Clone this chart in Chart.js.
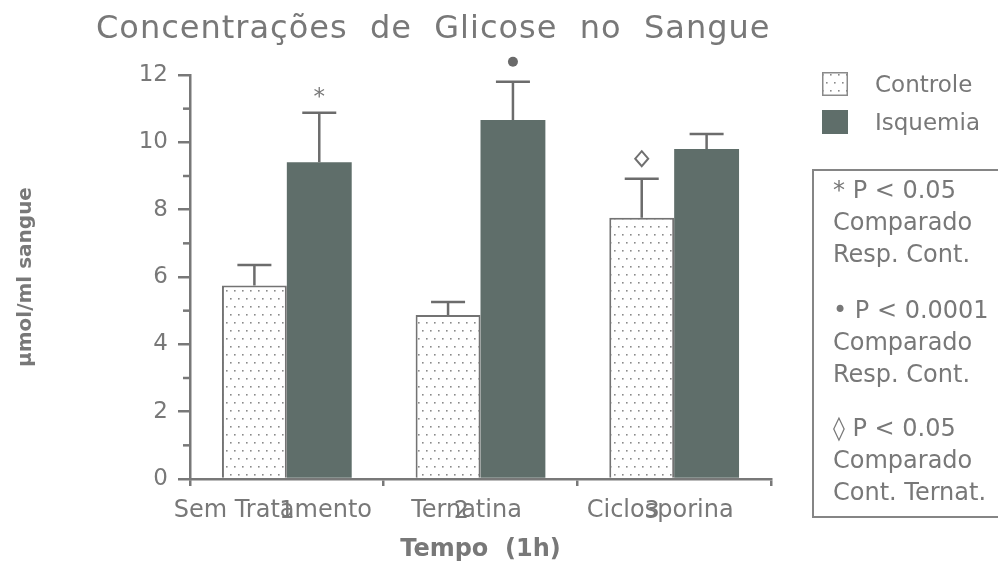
<!DOCTYPE html>
<html><head><meta charset="utf-8">
<script src="https://cdn.jsdelivr.net/npm/chart.js@4.4.1/dist/chart.umd.min.js"></script>
<style>html,body{margin:0;padding:0;background:#fff;}canvas{display:block}</style>
</head><body>
<canvas id="c" width="998" height="566"></canvas>
<script>
// ---- data ----
const categories = ['Sem Tratamento', 'Ternatina', 'Ciclosporina'];
const groupNumbers = ['1', '2', '3'];
const seriesNames = ['Controle', 'Isquemia'];
const controleValues = [5.75, 4.87, 7.76];
const controleErrors = [0.61, 0.39, 1.16];
const isquemiaValues = [9.41, 10.66, 9.80];
const isquemiaErrors = [1.47, 1.14, 0.45];
const yTickLabels = [0, 2, 4, 6, 8, 10, 12];
const chartTitle = 'Concentrações  de  Glicose  no  Sangue';
const yTitle = 'µmol/ml sangue';
const xTitle = 'Tempo  (1h)';
const significanceSeries = [1, 1, 0];
const significanceIndex = [0, 1, 2];
const significanceSymbol = ['*', '●', '◊'];
const noteLines = [
  ['* P < 0.05', 'Comparado', 'Resp. Cont.'],
  ['• P < 0.0001', 'Comparado', 'Resp. Cont.'],
  ['◊ P < 0.05', 'Comparado', 'Cont. Ternat.']
];

// ---- styles ----
const FAM = 'DejaVu Sans';
const GRAY = '#787878';
const DARK = '#5f6e6a';

function makeDots() {
  const c = document.createElement('canvas');
  c.width = 8; c.height = 16;
  const g = c.getContext('2d');
  g.fillStyle = '#fff'; g.fillRect(0, 0, 8, 16);
  g.fillStyle = '#8a8a8a';
  g.fillRect(2, 2, 1.6, 1.6);
  g.fillRect(6, 10, 1.6, 1.6);
  return g.createPattern(c, 'repeat');
}
const dots = makeDots();

const decorPlugin = {
  id: 'decor',
  afterDatasetsDraw(chart) {
    const ctx = chart.ctx;
    const y = chart.scales.y;
    ctx.save();
    ctx.strokeStyle = '#6c6c6c';
    ctx.lineWidth = 2.5;
    const tops = [];
    chart.data.datasets.forEach((ds, di) => {
      const meta = chart.getDatasetMeta(di);
      tops[di] = [];
      meta.data.forEach((bar, i) => {
        const top = y.getPixelForValue(ds.data[i] + ds.errors[i]);
        tops[di][i] = top;
        ctx.beginPath();
        ctx.moveTo(bar.x, bar.y);
        ctx.lineTo(bar.x, top);
        ctx.moveTo(bar.x - 17, top);
        ctx.lineTo(bar.x + 17, top);
        ctx.stroke();
      });
    });
    significanceSymbol.forEach((sym, k) => {
      const di = significanceSeries[k], i = significanceIndex[k];
      const bar = chart.getDatasetMeta(di).data[i];
      const cx = bar.x, cy = tops[di][i] - 20;
      if (sym === '*') {
        ctx.fillStyle = GRAY;
        ctx.font = '23px "' + FAM + '"';
        ctx.textAlign = 'center';
        ctx.textBaseline = 'alphabetic';
        const m = ctx.measureText('*');
        ctx.fillText('*', cx, cy + (m.actualBoundingBoxAscent - m.actualBoundingBoxDescent) / 2);
      } else if (sym === '●') {
        ctx.fillStyle = '#6a6a6a';
        ctx.beginPath(); ctx.arc(cx, cy, 5, 0, Math.PI * 2); ctx.fill();
      } else {
        ctx.strokeStyle = '#707070'; ctx.lineWidth = 2;
        ctx.beginPath();
        ctx.moveTo(cx, cy - 7.5); ctx.lineTo(cx + 6.5, cy); ctx.lineTo(cx, cy + 7.5); ctx.lineTo(cx - 6.5, cy); ctx.closePath();
        ctx.stroke();
      }
    });
    ctx.restore();
  },
  afterDraw(chart) {
    const ctx = chart.ctx;
    const x = chart.scales.x, y = chart.scales.y;
    ctx.save();
    // title
    ctx.fillStyle = GRAY;
    ctx.font = '32px "' + FAM + '"';
    ctx.letterSpacing = '1px';
    ctx.textAlign = 'left';
    ctx.textBaseline = 'middle';
    ctx.fillText(chartTitle, 96, 30);
    ctx.letterSpacing = '0px';
    // minor y ticks
    ctx.strokeStyle = GRAY; ctx.lineWidth = 2.5;
    for (let v = 1; v < 12; v += 2) {
      const py = y.getPixelForValue(v);
      ctx.beginPath(); ctx.moveTo(y.right - 7, py); ctx.lineTo(y.right, py); ctx.stroke();
    }
    // group numbers overlaid on category labels
    const shift = [0, -19, -22];
    ctx.font = '24px "' + FAM + '"';
    ctx.textAlign = 'center';
    ctx.textBaseline = 'middle';
    ctx.fillStyle = GRAY;
    groupNumbers.forEach((n, i) => ctx.fillText(n, x.getPixelForValue(i) + shift[i], 512));
    // legend
    ctx.font = '23px "' + FAM + '"';
    ctx.textAlign = 'left';
    chart.data.datasets.forEach((ds, i) => {
      const y0 = 72 + 38 * i;
      ctx.fillStyle = ds.backgroundColor;
      ctx.fillRect(822, y0, 26, 24);
      if (ds.borderWidth) {
        ctx.strokeStyle = '#8a8a8a'; ctx.lineWidth = 1.5;
        ctx.strokeRect(822.75, y0 + 0.75, 24.5, 22.5);
      }
      ctx.fillStyle = GRAY;
      ctx.fillText(ds.label, 875, y0 + 14);
    });
    // note box
    ctx.strokeStyle = '#858585'; ctx.lineWidth = 2;
    ctx.strokeRect(813, 170, 200, 347);
    ctx.fillStyle = GRAY;
    ctx.font = '24px "' + FAM + '"';
    const starts = [192, 312, 430];
    noteLines.forEach((block, b) => {
      block.forEach((line, j) => ctx.fillText(line, 833, starts[b] + 32 * j));
    });
    ctx.restore();
  }
};

new Chart(document.getElementById('c'), {
  type: 'bar',
  data: {
    labels: categories,
    datasets: [
      { label: seriesNames[0], data: controleValues, errors: controleErrors,
        backgroundColor: dots, borderColor: '#737373', borderWidth: 2, borderSkipped: 'bottom' },
      { label: seriesNames[1], data: isquemiaValues, errors: isquemiaErrors,
        backgroundColor: DARK, borderWidth: 0 }
    ]
  },
  options: {
    responsive: false,
    animation: false,
    layout: { padding: { top: 75, right: 227, bottom: 0, left: 0 } },
    datasets: { bar: { categoryPercentage: 0.67, barPercentage: 1.0 } },
    plugins: { legend: { display: false }, tooltip: { enabled: false }, title: { display: false } },
    scales: {
      x: {
        afterFit: (s) => { s.height = 87; },
        grid: { offset: true, drawOnChartArea: false, tickLength: 7, color: GRAY, lineWidth: 2.5 },
        border: { color: GRAY, width: 2.5 },
        ticks: { color: GRAY, font: { family: FAM, size: 24 }, padding: 10, labelOffset: -14, maxRotation: 0, autoSkip: false },
        title: { display: true, text: xTitle, color: GRAY, font: { family: FAM, size: 24, weight: 'bold' }, padding: { top: 0, bottom: 2 } }
      },
      y: {
        min: 0, max: 12,
        afterFit: (s) => { s.width = 190; },
        grid: { drawOnChartArea: false, tickLength: 12, lineWidth: 2.5,
          tickColor: (c) => (c.tick && yTickLabels.includes(c.tick.value)) ? GRAY : 'rgba(0,0,0,0)' },
        border: { color: GRAY, width: 2.5 },
        ticks: { stepSize: 1, color: GRAY, font: { family: FAM, size: 23 }, padding: 10, autoSkip: false,
          callback: (v) => yTickLabels.includes(v) ? String(v) : '' },
        title: { display: true, text: yTitle, color: GRAY, font: { family: FAM, size: 20, weight: 'bold' }, padding: { top: 14, bottom: 0 } }
      }
    }
  },
  plugins: [decorPlugin]
});
</script>
</body></html>
